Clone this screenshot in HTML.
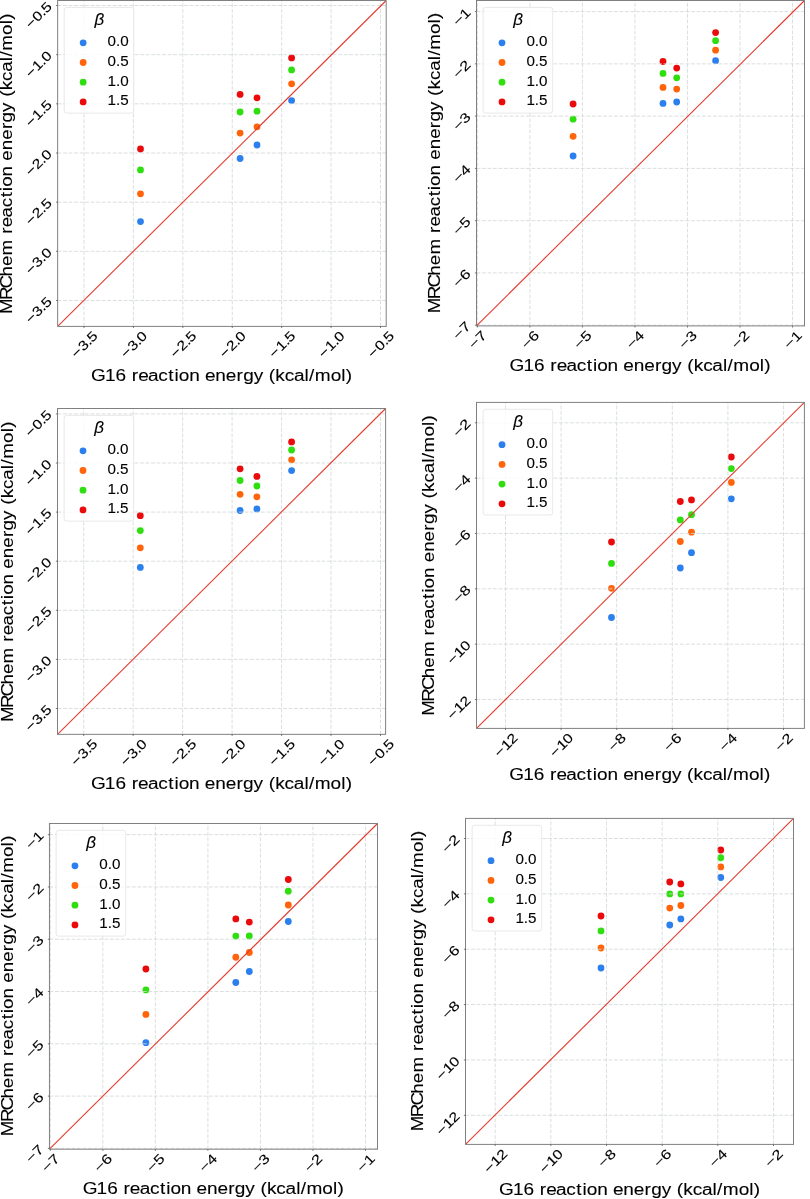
<!DOCTYPE html><html><head><meta charset="utf-8"><title>MRChem vs G16 reaction energies</title>
<style>html,body{margin:0;padding:0;background:#fff;width:810px;height:1199px;overflow:hidden}svg{display:block;filter:blur(0.35px)}text{font-family:"Liberation Sans",sans-serif;fill:#000;stroke:#000;stroke-width:0.1px}.tk{font-size:13.4px}.lab{font-size:16.4px}.lg{font-size:14.2px}.beta{font-size:17.0px;font-style:italic}</style></head><body>
<svg width="810" height="1199" viewBox="0 0 810 1199">
<rect width="810" height="1199" fill="#fff"/>
<g id="p1">
<clipPath id="c0"><rect x="57.65" y="0.5" width="328.55" height="325.90"/></clipPath>
<g clip-path="url(#c0)">
<circle cx="140.5" cy="221.6" r="3.4" fill="#2c80ee"/>
<circle cx="140.5" cy="193.8" r="3.4" fill="#ff640a"/>
<circle cx="140.5" cy="169.9" r="3.4" fill="#2fde0e"/>
<circle cx="140.5" cy="149" r="3.4" fill="#ea0a0c"/>
<circle cx="240.1" cy="158.5" r="3.4" fill="#2c80ee"/>
<circle cx="240.1" cy="133.1" r="3.4" fill="#ff640a"/>
<circle cx="240.1" cy="112" r="3.4" fill="#2fde0e"/>
<circle cx="240.1" cy="94.4" r="3.4" fill="#ea0a0c"/>
<circle cx="257" cy="145" r="3.4" fill="#2c80ee"/>
<circle cx="257" cy="126.8" r="3.4" fill="#ff640a"/>
<circle cx="257" cy="111.2" r="3.4" fill="#2fde0e"/>
<circle cx="257" cy="97.8" r="3.4" fill="#ea0a0c"/>
<circle cx="291.6" cy="100.6" r="3.4" fill="#2c80ee"/>
<circle cx="291.6" cy="83.8" r="3.4" fill="#ff640a"/>
<circle cx="291.6" cy="69.9" r="3.4" fill="#2fde0e"/>
<circle cx="291.6" cy="57.9" r="3.4" fill="#ea0a0c"/>
<line x1="84.00" y1="326.4" x2="84.00" y2="0.5" stroke="#d2d7d7" stroke-width="0.8" stroke-dasharray="3.85 1.65"/>
<line x1="133.42" y1="326.4" x2="133.42" y2="0.5" stroke="#d2d7d7" stroke-width="0.8" stroke-dasharray="3.85 1.65"/>
<line x1="182.83" y1="326.4" x2="182.83" y2="0.5" stroke="#d2d7d7" stroke-width="0.8" stroke-dasharray="3.85 1.65"/>
<line x1="232.25" y1="326.4" x2="232.25" y2="0.5" stroke="#d2d7d7" stroke-width="0.8" stroke-dasharray="3.85 1.65"/>
<line x1="281.67" y1="326.4" x2="281.67" y2="0.5" stroke="#d2d7d7" stroke-width="0.8" stroke-dasharray="3.85 1.65"/>
<line x1="331.08" y1="326.4" x2="331.08" y2="0.5" stroke="#d2d7d7" stroke-width="0.8" stroke-dasharray="3.85 1.65"/>
<line x1="380.50" y1="326.4" x2="380.50" y2="0.5" stroke="#d2d7d7" stroke-width="0.8" stroke-dasharray="3.85 1.65"/>
<line x1="57.65" y1="300.50" x2="386.2" y2="300.50" stroke="#d2d7d7" stroke-width="0.8" stroke-dasharray="3.85 1.65"/>
<line x1="57.65" y1="251.33" x2="386.2" y2="251.33" stroke="#d2d7d7" stroke-width="0.8" stroke-dasharray="3.85 1.65"/>
<line x1="57.65" y1="202.17" x2="386.2" y2="202.17" stroke="#d2d7d7" stroke-width="0.8" stroke-dasharray="3.85 1.65"/>
<line x1="57.65" y1="153.00" x2="386.2" y2="153.00" stroke="#d2d7d7" stroke-width="0.8" stroke-dasharray="3.85 1.65"/>
<line x1="57.65" y1="103.83" x2="386.2" y2="103.83" stroke="#d2d7d7" stroke-width="0.8" stroke-dasharray="3.85 1.65"/>
<line x1="57.65" y1="54.67" x2="386.2" y2="54.67" stroke="#d2d7d7" stroke-width="0.8" stroke-dasharray="3.85 1.65"/>
<line x1="57.65" y1="5.50" x2="386.2" y2="5.50" stroke="#d2d7d7" stroke-width="0.8" stroke-dasharray="3.85 1.65"/>
<line x1="57.65" y1="326.4" x2="386.2" y2="0.5" stroke="#e43c30" stroke-width="1.1"/>
</g>
<rect x="64.2" y="7.4" width="69.6" height="105.7" rx="2.5" fill="#fff" fill-opacity="0.8" stroke="#e2e2e2" stroke-width="0.8"/>
<text class="beta" x="94.47" y="24.88">β</text>
<circle cx="83.15" cy="42.80" r="3.4" fill="#2c80ee"/>
<text class="lg" transform="translate(107.55,46.27) scale(1.0715,1)" x="-0.00 7.90 11.84" y="0">0.0</text>
<circle cx="83.15" cy="62.50" r="3.4" fill="#ff640a"/>
<text class="lg" transform="translate(107.55,65.97) scale(1.0715,1)" x="-0.00 7.90 11.84" y="0">0.5</text>
<circle cx="83.15" cy="82.20" r="3.4" fill="#2fde0e"/>
<text class="lg" transform="translate(107.55,85.67) scale(1.0715,1)" x="-0.00 7.90 11.84" y="0">1.0</text>
<circle cx="83.15" cy="101.90" r="3.4" fill="#ea0a0c"/>
<text class="lg" transform="translate(107.55,105.38) scale(1.0715,1)" x="-0.00 7.90 11.84" y="0">1.5</text>
<rect x="57.65" y="0.5" width="328.55" height="325.90" fill="none" stroke="#808080" stroke-width="1"/>
<line x1="84.00" y1="326.4" x2="84.00" y2="328.0" stroke="#555" stroke-width="0.8"/>
<line x1="133.42" y1="326.4" x2="133.42" y2="328.0" stroke="#555" stroke-width="0.8"/>
<line x1="182.83" y1="326.4" x2="182.83" y2="328.0" stroke="#555" stroke-width="0.8"/>
<line x1="232.25" y1="326.4" x2="232.25" y2="328.0" stroke="#555" stroke-width="0.8"/>
<line x1="281.67" y1="326.4" x2="281.67" y2="328.0" stroke="#555" stroke-width="0.8"/>
<line x1="331.08" y1="326.4" x2="331.08" y2="328.0" stroke="#555" stroke-width="0.8"/>
<line x1="380.50" y1="326.4" x2="380.50" y2="328.0" stroke="#555" stroke-width="0.8"/>
<line x1="56.05" y1="300.50" x2="57.65" y2="300.50" stroke="#555" stroke-width="0.8"/>
<line x1="56.05" y1="251.33" x2="57.65" y2="251.33" stroke="#555" stroke-width="0.8"/>
<line x1="56.05" y1="202.17" x2="57.65" y2="202.17" stroke="#555" stroke-width="0.8"/>
<line x1="56.05" y1="153.00" x2="57.65" y2="153.00" stroke="#555" stroke-width="0.8"/>
<line x1="56.05" y1="103.83" x2="57.65" y2="103.83" stroke="#555" stroke-width="0.8"/>
<line x1="56.05" y1="54.67" x2="57.65" y2="54.67" stroke="#555" stroke-width="0.8"/>
<line x1="56.05" y1="5.50" x2="57.65" y2="5.50" stroke="#555" stroke-width="0.8"/>
<text class="tk" transform="translate(98.33,337.00) rotate(-45) scale(1.1933,1)" x="-25.80 -17.59 -10.52 -7.19" y="0">−3.5</text>
<text class="tk" transform="translate(147.75,337.00) rotate(-45) scale(1.1933,1)" x="-25.80 -17.59 -10.52 -7.19" y="0">−3.0</text>
<text class="tk" transform="translate(197.16,337.00) rotate(-45) scale(1.1933,1)" x="-25.80 -17.59 -10.52 -7.19" y="0">−2.5</text>
<text class="tk" transform="translate(246.58,337.00) rotate(-45) scale(1.1933,1)" x="-25.80 -17.59 -10.52 -7.19" y="0">−2.0</text>
<text class="tk" transform="translate(296.00,337.00) rotate(-45) scale(1.1933,1)" x="-25.80 -17.59 -10.52 -7.19" y="0">−1.5</text>
<text class="tk" transform="translate(345.41,337.00) rotate(-45) scale(1.1933,1)" x="-25.80 -17.59 -10.52 -7.19" y="0">−1.0</text>
<text class="tk" transform="translate(394.83,337.00) rotate(-45) scale(1.1933,1)" x="-25.80 -17.59 -10.52 -7.19" y="0">−0.5</text>
<text class="tk" transform="translate(52.45,302.60) rotate(-45) scale(1.1933,1)" x="-25.80 -17.59 -10.52 -7.19" y="0">−3.5</text>
<text class="tk" transform="translate(52.45,253.43) rotate(-45) scale(1.1933,1)" x="-25.80 -17.59 -10.52 -7.19" y="0">−3.0</text>
<text class="tk" transform="translate(52.45,204.27) rotate(-45) scale(1.1933,1)" x="-25.80 -17.59 -10.52 -7.19" y="0">−2.5</text>
<text class="tk" transform="translate(52.45,155.10) rotate(-45) scale(1.1933,1)" x="-25.80 -17.59 -10.52 -7.19" y="0">−2.0</text>
<text class="tk" transform="translate(52.45,105.93) rotate(-45) scale(1.1933,1)" x="-25.80 -17.59 -10.52 -7.19" y="0">−1.5</text>
<text class="tk" transform="translate(52.45,56.77) rotate(-45) scale(1.1933,1)" x="-25.80 -17.59 -10.52 -7.19" y="0">−1.0</text>
<text class="tk" transform="translate(52.45,7.60) rotate(-45) scale(1.1933,1)" x="-25.80 -17.59 -10.52 -7.19" y="0">−0.5</text>
<text class="lab" transform="translate(91.95,381.00) scale(1.1609,1)" x="-0.80 11.18 20.35 29.50 34.30 39.86 48.38 57.22 65.82 71.10 74.77 83.74 92.88 97.31 106.31 115.30 124.52 130.23 139.27 147.64 152.29 157.90 166.03 173.94 183.09 187.06 191.95 205.64 214.79 218.69" y="0">G16 reaction energy (kcal/mol)</text>
<text class="lab" transform="translate(12.40,313.52) rotate(-90) scale(1.1434,1)" x="-0.52 11.77 21.96 32.33 41.46 50.81 64.81 69.69 75.37 84.02 92.98 101.69 107.05 110.81 119.92 129.16 133.70 142.83 151.96 161.30 167.11 176.29 184.76 189.48 195.20 203.45 211.49 220.74 224.78 229.82 243.68 252.92 256.90" y="0">MRChem reaction energy (kcal/mol)</text>
</g>
<g id="p2">
<clipPath id="c1"><rect x="476.5" y="0.5" width="328.00" height="325.40"/></clipPath>
<g clip-path="url(#c1)">
<circle cx="573.1" cy="156" r="3.4" fill="#2c80ee"/>
<circle cx="573.1" cy="136.3" r="3.4" fill="#ff640a"/>
<circle cx="573.1" cy="119.2" r="3.4" fill="#2fde0e"/>
<circle cx="573.1" cy="104" r="3.4" fill="#ea0a0c"/>
<circle cx="663" cy="103.4" r="3.4" fill="#2c80ee"/>
<circle cx="663" cy="87.4" r="3.4" fill="#ff640a"/>
<circle cx="663" cy="73.4" r="3.4" fill="#2fde0e"/>
<circle cx="663" cy="61.5" r="3.4" fill="#ea0a0c"/>
<circle cx="676.7" cy="102" r="3.4" fill="#2c80ee"/>
<circle cx="676.7" cy="89.1" r="3.4" fill="#ff640a"/>
<circle cx="676.7" cy="77.8" r="3.4" fill="#2fde0e"/>
<circle cx="676.7" cy="68.1" r="3.4" fill="#ea0a0c"/>
<circle cx="715.6" cy="60.7" r="3.4" fill="#2c80ee"/>
<circle cx="715.6" cy="50.2" r="3.4" fill="#ff640a"/>
<circle cx="715.6" cy="40.7" r="3.4" fill="#2fde0e"/>
<circle cx="715.6" cy="32.6" r="3.4" fill="#ea0a0c"/>
<line x1="477.40" y1="325.9" x2="477.40" y2="0.5" stroke="#d2d7d7" stroke-width="0.8" stroke-dasharray="3.85 1.65"/>
<line x1="529.92" y1="325.9" x2="529.92" y2="0.5" stroke="#d2d7d7" stroke-width="0.8" stroke-dasharray="3.85 1.65"/>
<line x1="582.43" y1="325.9" x2="582.43" y2="0.5" stroke="#d2d7d7" stroke-width="0.8" stroke-dasharray="3.85 1.65"/>
<line x1="634.95" y1="325.9" x2="634.95" y2="0.5" stroke="#d2d7d7" stroke-width="0.8" stroke-dasharray="3.85 1.65"/>
<line x1="687.47" y1="325.9" x2="687.47" y2="0.5" stroke="#d2d7d7" stroke-width="0.8" stroke-dasharray="3.85 1.65"/>
<line x1="739.98" y1="325.9" x2="739.98" y2="0.5" stroke="#d2d7d7" stroke-width="0.8" stroke-dasharray="3.85 1.65"/>
<line x1="792.50" y1="325.9" x2="792.50" y2="0.5" stroke="#d2d7d7" stroke-width="0.8" stroke-dasharray="3.85 1.65"/>
<line x1="476.5" y1="325.20" x2="804.5" y2="325.20" stroke="#d2d7d7" stroke-width="0.8" stroke-dasharray="3.85 1.65"/>
<line x1="476.5" y1="272.93" x2="804.5" y2="272.93" stroke="#d2d7d7" stroke-width="0.8" stroke-dasharray="3.85 1.65"/>
<line x1="476.5" y1="220.67" x2="804.5" y2="220.67" stroke="#d2d7d7" stroke-width="0.8" stroke-dasharray="3.85 1.65"/>
<line x1="476.5" y1="168.40" x2="804.5" y2="168.40" stroke="#d2d7d7" stroke-width="0.8" stroke-dasharray="3.85 1.65"/>
<line x1="476.5" y1="116.13" x2="804.5" y2="116.13" stroke="#d2d7d7" stroke-width="0.8" stroke-dasharray="3.85 1.65"/>
<line x1="476.5" y1="63.87" x2="804.5" y2="63.87" stroke="#d2d7d7" stroke-width="0.8" stroke-dasharray="3.85 1.65"/>
<line x1="476.5" y1="11.60" x2="804.5" y2="11.60" stroke="#d2d7d7" stroke-width="0.8" stroke-dasharray="3.85 1.65"/>
<line x1="476.5" y1="325.9" x2="804.5" y2="0.5" stroke="#e43c30" stroke-width="1.1"/>
</g>
<rect x="483.1" y="7.4" width="69.6" height="105.7" rx="2.5" fill="#fff" fill-opacity="0.8" stroke="#e2e2e2" stroke-width="0.8"/>
<text class="beta" x="513.33" y="24.88">β</text>
<circle cx="502.00" cy="42.80" r="3.4" fill="#2c80ee"/>
<text class="lg" transform="translate(526.40,46.27) scale(1.0715,1)" x="-0.00 7.90 11.84" y="0">0.0</text>
<circle cx="502.00" cy="62.50" r="3.4" fill="#ff640a"/>
<text class="lg" transform="translate(526.40,65.97) scale(1.0715,1)" x="-0.00 7.90 11.84" y="0">0.5</text>
<circle cx="502.00" cy="82.20" r="3.4" fill="#2fde0e"/>
<text class="lg" transform="translate(526.40,85.67) scale(1.0715,1)" x="-0.00 7.90 11.84" y="0">1.0</text>
<circle cx="502.00" cy="101.90" r="3.4" fill="#ea0a0c"/>
<text class="lg" transform="translate(526.40,105.38) scale(1.0715,1)" x="-0.00 7.90 11.84" y="0">1.5</text>
<rect x="476.5" y="0.5" width="328.00" height="325.40" fill="none" stroke="#808080" stroke-width="1"/>
<line x1="477.40" y1="325.9" x2="477.40" y2="327.5" stroke="#555" stroke-width="0.8"/>
<line x1="529.92" y1="325.9" x2="529.92" y2="327.5" stroke="#555" stroke-width="0.8"/>
<line x1="582.43" y1="325.9" x2="582.43" y2="327.5" stroke="#555" stroke-width="0.8"/>
<line x1="634.95" y1="325.9" x2="634.95" y2="327.5" stroke="#555" stroke-width="0.8"/>
<line x1="687.47" y1="325.9" x2="687.47" y2="327.5" stroke="#555" stroke-width="0.8"/>
<line x1="739.98" y1="325.9" x2="739.98" y2="327.5" stroke="#555" stroke-width="0.8"/>
<line x1="792.50" y1="325.9" x2="792.50" y2="327.5" stroke="#555" stroke-width="0.8"/>
<line x1="474.9" y1="325.20" x2="476.5" y2="325.20" stroke="#555" stroke-width="0.8"/>
<line x1="474.9" y1="272.93" x2="476.5" y2="272.93" stroke="#555" stroke-width="0.8"/>
<line x1="474.9" y1="220.67" x2="476.5" y2="220.67" stroke="#555" stroke-width="0.8"/>
<line x1="474.9" y1="168.40" x2="476.5" y2="168.40" stroke="#555" stroke-width="0.8"/>
<line x1="474.9" y1="116.13" x2="476.5" y2="116.13" stroke="#555" stroke-width="0.8"/>
<line x1="474.9" y1="63.87" x2="476.5" y2="63.87" stroke="#555" stroke-width="0.8"/>
<line x1="474.9" y1="11.60" x2="476.5" y2="11.60" stroke="#555" stroke-width="0.8"/>
<text class="tk" transform="translate(487.28,336.50) rotate(-45) scale(1.2543,1)" x="-14.85 -7.02" y="0">−7</text>
<text class="tk" transform="translate(539.80,336.50) rotate(-45) scale(1.2543,1)" x="-14.85 -7.02" y="0">−6</text>
<text class="tk" transform="translate(592.31,336.50) rotate(-45) scale(1.2543,1)" x="-14.85 -7.02" y="0">−5</text>
<text class="tk" transform="translate(644.83,336.50) rotate(-45) scale(1.2543,1)" x="-14.85 -7.02" y="0">−4</text>
<text class="tk" transform="translate(697.35,336.50) rotate(-45) scale(1.2543,1)" x="-14.85 -7.02" y="0">−3</text>
<text class="tk" transform="translate(749.86,336.50) rotate(-45) scale(1.2543,1)" x="-14.85 -7.02" y="0">−2</text>
<text class="tk" transform="translate(802.38,336.50) rotate(-45) scale(1.2543,1)" x="-14.85 -7.02" y="0">−1</text>
<text class="tk" transform="translate(471.30,327.30) rotate(-45) scale(1.2543,1)" x="-14.85 -7.02" y="0">−7</text>
<text class="tk" transform="translate(471.30,275.03) rotate(-45) scale(1.2543,1)" x="-14.85 -7.02" y="0">−6</text>
<text class="tk" transform="translate(471.30,222.77) rotate(-45) scale(1.2543,1)" x="-14.85 -7.02" y="0">−5</text>
<text class="tk" transform="translate(471.30,170.50) rotate(-45) scale(1.2543,1)" x="-14.85 -7.02" y="0">−4</text>
<text class="tk" transform="translate(471.30,118.23) rotate(-45) scale(1.2543,1)" x="-14.85 -7.02" y="0">−3</text>
<text class="tk" transform="translate(471.30,65.97) rotate(-45) scale(1.2543,1)" x="-14.85 -7.02" y="0">−2</text>
<text class="tk" transform="translate(471.30,13.70) rotate(-45) scale(1.2543,1)" x="-14.85 -7.02" y="0">−1</text>
<text class="lab" transform="translate(510.40,371.10) scale(1.1609,1)" x="-0.80 11.18 20.35 29.50 34.30 39.86 48.38 57.22 65.82 71.10 74.77 83.74 92.88 97.31 106.31 115.30 124.52 130.23 139.27 147.64 152.29 157.90 166.03 173.94 183.09 187.06 191.95 205.64 214.79 218.69" y="0">G16 reaction energy (kcal/mol)</text>
<text class="lab" transform="translate(440.00,312.62) rotate(-90) scale(1.1434,1)" x="-0.52 11.77 21.96 32.33 41.46 50.81 64.81 69.69 75.37 84.02 92.98 101.69 107.05 110.81 119.92 129.16 133.70 142.83 151.96 161.30 167.11 176.29 184.76 189.48 195.20 203.45 211.49 220.74 224.78 229.82 243.68 252.92 256.90" y="0">MRChem reaction energy (kcal/mol)</text>
</g>
<g id="p3">
<clipPath id="c2"><rect x="57.5" y="408.5" width="328.10" height="325.85"/></clipPath>
<g clip-path="url(#c2)">
<circle cx="140.3" cy="567.4" r="3.4" fill="#2c80ee"/>
<circle cx="140.3" cy="547.8" r="3.4" fill="#ff640a"/>
<circle cx="140.3" cy="530.6" r="3.4" fill="#2fde0e"/>
<circle cx="140.3" cy="515.7" r="3.4" fill="#ea0a0c"/>
<circle cx="240.1" cy="510.5" r="3.4" fill="#2c80ee"/>
<circle cx="240.1" cy="494.3" r="3.4" fill="#ff640a"/>
<circle cx="240.1" cy="480.5" r="3.4" fill="#2fde0e"/>
<circle cx="240.1" cy="468.8" r="3.4" fill="#ea0a0c"/>
<circle cx="256.9" cy="508.9" r="3.4" fill="#2c80ee"/>
<circle cx="256.9" cy="496.8" r="3.4" fill="#ff640a"/>
<circle cx="256.9" cy="486" r="3.4" fill="#2fde0e"/>
<circle cx="256.9" cy="476.4" r="3.4" fill="#ea0a0c"/>
<circle cx="291.6" cy="470.6" r="3.4" fill="#2c80ee"/>
<circle cx="291.6" cy="459.8" r="3.4" fill="#ff640a"/>
<circle cx="291.6" cy="450" r="3.4" fill="#2fde0e"/>
<circle cx="291.6" cy="441.9" r="3.4" fill="#ea0a0c"/>
<line x1="83.70" y1="734.35" x2="83.70" y2="408.5" stroke="#d2d7d7" stroke-width="0.8" stroke-dasharray="3.85 1.65"/>
<line x1="133.17" y1="734.35" x2="133.17" y2="408.5" stroke="#d2d7d7" stroke-width="0.8" stroke-dasharray="3.85 1.65"/>
<line x1="182.63" y1="734.35" x2="182.63" y2="408.5" stroke="#d2d7d7" stroke-width="0.8" stroke-dasharray="3.85 1.65"/>
<line x1="232.10" y1="734.35" x2="232.10" y2="408.5" stroke="#d2d7d7" stroke-width="0.8" stroke-dasharray="3.85 1.65"/>
<line x1="281.57" y1="734.35" x2="281.57" y2="408.5" stroke="#d2d7d7" stroke-width="0.8" stroke-dasharray="3.85 1.65"/>
<line x1="331.03" y1="734.35" x2="331.03" y2="408.5" stroke="#d2d7d7" stroke-width="0.8" stroke-dasharray="3.85 1.65"/>
<line x1="380.50" y1="734.35" x2="380.50" y2="408.5" stroke="#d2d7d7" stroke-width="0.8" stroke-dasharray="3.85 1.65"/>
<line x1="57.5" y1="708.50" x2="385.6" y2="708.50" stroke="#d2d7d7" stroke-width="0.8" stroke-dasharray="3.85 1.65"/>
<line x1="57.5" y1="659.40" x2="385.6" y2="659.40" stroke="#d2d7d7" stroke-width="0.8" stroke-dasharray="3.85 1.65"/>
<line x1="57.5" y1="610.30" x2="385.6" y2="610.30" stroke="#d2d7d7" stroke-width="0.8" stroke-dasharray="3.85 1.65"/>
<line x1="57.5" y1="561.20" x2="385.6" y2="561.20" stroke="#d2d7d7" stroke-width="0.8" stroke-dasharray="3.85 1.65"/>
<line x1="57.5" y1="512.10" x2="385.6" y2="512.10" stroke="#d2d7d7" stroke-width="0.8" stroke-dasharray="3.85 1.65"/>
<line x1="57.5" y1="463.00" x2="385.6" y2="463.00" stroke="#d2d7d7" stroke-width="0.8" stroke-dasharray="3.85 1.65"/>
<line x1="57.5" y1="413.90" x2="385.6" y2="413.90" stroke="#d2d7d7" stroke-width="0.8" stroke-dasharray="3.85 1.65"/>
<line x1="57.5" y1="734.35" x2="385.6" y2="408.5" stroke="#e43c30" stroke-width="1.1"/>
</g>
<rect x="64.1" y="415.4" width="69.6" height="105.7" rx="2.5" fill="#fff" fill-opacity="0.8" stroke="#e2e2e2" stroke-width="0.8"/>
<text class="beta" x="94.33" y="432.88">β</text>
<circle cx="83.00" cy="450.80" r="3.4" fill="#2c80ee"/>
<text class="lg" transform="translate(107.40,454.27) scale(1.0715,1)" x="-0.00 7.90 11.84" y="0">0.0</text>
<circle cx="83.00" cy="470.50" r="3.4" fill="#ff640a"/>
<text class="lg" transform="translate(107.40,473.97) scale(1.0715,1)" x="-0.00 7.90 11.84" y="0">0.5</text>
<circle cx="83.00" cy="490.20" r="3.4" fill="#2fde0e"/>
<text class="lg" transform="translate(107.40,493.67) scale(1.0715,1)" x="-0.00 7.90 11.84" y="0">1.0</text>
<circle cx="83.00" cy="509.90" r="3.4" fill="#ea0a0c"/>
<text class="lg" transform="translate(107.40,513.38) scale(1.0715,1)" x="-0.00 7.90 11.84" y="0">1.5</text>
<rect x="57.5" y="408.5" width="328.10" height="325.85" fill="none" stroke="#808080" stroke-width="1"/>
<line x1="83.70" y1="734.35" x2="83.70" y2="735.95" stroke="#555" stroke-width="0.8"/>
<line x1="133.17" y1="734.35" x2="133.17" y2="735.95" stroke="#555" stroke-width="0.8"/>
<line x1="182.63" y1="734.35" x2="182.63" y2="735.95" stroke="#555" stroke-width="0.8"/>
<line x1="232.10" y1="734.35" x2="232.10" y2="735.95" stroke="#555" stroke-width="0.8"/>
<line x1="281.57" y1="734.35" x2="281.57" y2="735.95" stroke="#555" stroke-width="0.8"/>
<line x1="331.03" y1="734.35" x2="331.03" y2="735.95" stroke="#555" stroke-width="0.8"/>
<line x1="380.50" y1="734.35" x2="380.50" y2="735.95" stroke="#555" stroke-width="0.8"/>
<line x1="55.9" y1="708.50" x2="57.5" y2="708.50" stroke="#555" stroke-width="0.8"/>
<line x1="55.9" y1="659.40" x2="57.5" y2="659.40" stroke="#555" stroke-width="0.8"/>
<line x1="55.9" y1="610.30" x2="57.5" y2="610.30" stroke="#555" stroke-width="0.8"/>
<line x1="55.9" y1="561.20" x2="57.5" y2="561.20" stroke="#555" stroke-width="0.8"/>
<line x1="55.9" y1="512.10" x2="57.5" y2="512.10" stroke="#555" stroke-width="0.8"/>
<line x1="55.9" y1="463.00" x2="57.5" y2="463.00" stroke="#555" stroke-width="0.8"/>
<line x1="55.9" y1="413.90" x2="57.5" y2="413.90" stroke="#555" stroke-width="0.8"/>
<text class="tk" transform="translate(98.03,744.95) rotate(-45) scale(1.1933,1)" x="-25.80 -17.59 -10.52 -7.19" y="0">−3.5</text>
<text class="tk" transform="translate(147.50,744.95) rotate(-45) scale(1.1933,1)" x="-25.80 -17.59 -10.52 -7.19" y="0">−3.0</text>
<text class="tk" transform="translate(196.96,744.95) rotate(-45) scale(1.1933,1)" x="-25.80 -17.59 -10.52 -7.19" y="0">−2.5</text>
<text class="tk" transform="translate(246.43,744.95) rotate(-45) scale(1.1933,1)" x="-25.80 -17.59 -10.52 -7.19" y="0">−2.0</text>
<text class="tk" transform="translate(295.90,744.95) rotate(-45) scale(1.1933,1)" x="-25.80 -17.59 -10.52 -7.19" y="0">−1.5</text>
<text class="tk" transform="translate(345.36,744.95) rotate(-45) scale(1.1933,1)" x="-25.80 -17.59 -10.52 -7.19" y="0">−1.0</text>
<text class="tk" transform="translate(394.83,744.95) rotate(-45) scale(1.1933,1)" x="-25.80 -17.59 -10.52 -7.19" y="0">−0.5</text>
<text class="tk" transform="translate(52.30,710.60) rotate(-45) scale(1.1933,1)" x="-25.80 -17.59 -10.52 -7.19" y="0">−3.5</text>
<text class="tk" transform="translate(52.30,661.50) rotate(-45) scale(1.1933,1)" x="-25.80 -17.59 -10.52 -7.19" y="0">−3.0</text>
<text class="tk" transform="translate(52.30,612.40) rotate(-45) scale(1.1933,1)" x="-25.80 -17.59 -10.52 -7.19" y="0">−2.5</text>
<text class="tk" transform="translate(52.30,563.30) rotate(-45) scale(1.1933,1)" x="-25.80 -17.59 -10.52 -7.19" y="0">−2.0</text>
<text class="tk" transform="translate(52.30,514.20) rotate(-45) scale(1.1933,1)" x="-25.80 -17.59 -10.52 -7.19" y="0">−1.5</text>
<text class="tk" transform="translate(52.30,465.10) rotate(-45) scale(1.1933,1)" x="-25.80 -17.59 -10.52 -7.19" y="0">−1.0</text>
<text class="tk" transform="translate(52.30,416.00) rotate(-45) scale(1.1933,1)" x="-25.80 -17.59 -10.52 -7.19" y="0">−0.5</text>
<text class="lab" transform="translate(91.85,789.10) scale(1.1609,1)" x="-0.80 11.18 20.35 29.50 34.30 39.86 48.38 57.22 65.82 71.10 74.77 83.74 92.88 97.31 106.31 115.30 124.52 130.23 139.27 147.64 152.29 157.90 166.03 173.94 183.09 187.06 191.95 205.64 214.79 218.69" y="0">G16 reaction energy (kcal/mol)</text>
<text class="lab" transform="translate(12.50,721.52) rotate(-90) scale(1.1434,1)" x="-0.52 11.77 21.96 32.33 41.46 50.81 64.81 69.69 75.37 84.02 92.98 101.69 107.05 110.81 119.92 129.16 133.70 142.83 151.96 161.30 167.11 176.29 184.76 189.48 195.20 203.45 211.49 220.74 224.78 229.82 243.68 252.92 256.90" y="0">MRChem reaction energy (kcal/mol)</text>
</g>
<g id="p4">
<clipPath id="c3"><rect x="476.5" y="402.4" width="327.90" height="326.00"/></clipPath>
<g clip-path="url(#c3)">
<circle cx="611.5" cy="617.5" r="3.4" fill="#2c80ee"/>
<circle cx="611.5" cy="588.3" r="3.4" fill="#ff640a"/>
<circle cx="611.5" cy="563.4" r="3.4" fill="#2fde0e"/>
<circle cx="611.5" cy="542" r="3.4" fill="#ea0a0c"/>
<circle cx="680.3" cy="568" r="3.4" fill="#2c80ee"/>
<circle cx="680.3" cy="541.5" r="3.4" fill="#ff640a"/>
<circle cx="680.3" cy="519.9" r="3.4" fill="#2fde0e"/>
<circle cx="680.3" cy="501.5" r="3.4" fill="#ea0a0c"/>
<circle cx="691.5" cy="552.7" r="3.4" fill="#2c80ee"/>
<circle cx="691.5" cy="532.2" r="3.4" fill="#ff640a"/>
<circle cx="691.5" cy="514.7" r="3.4" fill="#2fde0e"/>
<circle cx="691.5" cy="499.9" r="3.4" fill="#ea0a0c"/>
<circle cx="731.3" cy="498.8" r="3.4" fill="#2c80ee"/>
<circle cx="731.3" cy="482.4" r="3.4" fill="#ff640a"/>
<circle cx="731.3" cy="468.6" r="3.4" fill="#2fde0e"/>
<circle cx="731.3" cy="457" r="3.4" fill="#ea0a0c"/>
<line x1="505.50" y1="728.4" x2="505.50" y2="402.4" stroke="#d2d7d7" stroke-width="0.8" stroke-dasharray="3.85 1.65"/>
<line x1="561.10" y1="728.4" x2="561.10" y2="402.4" stroke="#d2d7d7" stroke-width="0.8" stroke-dasharray="3.85 1.65"/>
<line x1="616.70" y1="728.4" x2="616.70" y2="402.4" stroke="#d2d7d7" stroke-width="0.8" stroke-dasharray="3.85 1.65"/>
<line x1="672.30" y1="728.4" x2="672.30" y2="402.4" stroke="#d2d7d7" stroke-width="0.8" stroke-dasharray="3.85 1.65"/>
<line x1="727.90" y1="728.4" x2="727.90" y2="402.4" stroke="#d2d7d7" stroke-width="0.8" stroke-dasharray="3.85 1.65"/>
<line x1="783.50" y1="728.4" x2="783.50" y2="402.4" stroke="#d2d7d7" stroke-width="0.8" stroke-dasharray="3.85 1.65"/>
<line x1="476.5" y1="699.50" x2="804.4" y2="699.50" stroke="#d2d7d7" stroke-width="0.8" stroke-dasharray="3.85 1.65"/>
<line x1="476.5" y1="644.16" x2="804.4" y2="644.16" stroke="#d2d7d7" stroke-width="0.8" stroke-dasharray="3.85 1.65"/>
<line x1="476.5" y1="588.82" x2="804.4" y2="588.82" stroke="#d2d7d7" stroke-width="0.8" stroke-dasharray="3.85 1.65"/>
<line x1="476.5" y1="533.48" x2="804.4" y2="533.48" stroke="#d2d7d7" stroke-width="0.8" stroke-dasharray="3.85 1.65"/>
<line x1="476.5" y1="478.14" x2="804.4" y2="478.14" stroke="#d2d7d7" stroke-width="0.8" stroke-dasharray="3.85 1.65"/>
<line x1="476.5" y1="422.80" x2="804.4" y2="422.80" stroke="#d2d7d7" stroke-width="0.8" stroke-dasharray="3.85 1.65"/>
<line x1="476.5" y1="728.4" x2="804.4" y2="402.4" stroke="#e43c30" stroke-width="1.1"/>
</g>
<rect x="483.1" y="409.3" width="69.6" height="105.7" rx="2.5" fill="#fff" fill-opacity="0.8" stroke="#e2e2e2" stroke-width="0.8"/>
<text class="beta" x="513.33" y="426.77">β</text>
<circle cx="502.00" cy="444.70" r="3.4" fill="#2c80ee"/>
<text class="lg" transform="translate(526.40,448.17) scale(1.0715,1)" x="-0.00 7.90 11.84" y="0">0.0</text>
<circle cx="502.00" cy="464.40" r="3.4" fill="#ff640a"/>
<text class="lg" transform="translate(526.40,467.87) scale(1.0715,1)" x="-0.00 7.90 11.84" y="0">0.5</text>
<circle cx="502.00" cy="484.10" r="3.4" fill="#2fde0e"/>
<text class="lg" transform="translate(526.40,487.57) scale(1.0715,1)" x="-0.00 7.90 11.84" y="0">1.0</text>
<circle cx="502.00" cy="503.80" r="3.4" fill="#ea0a0c"/>
<text class="lg" transform="translate(526.40,507.27) scale(1.0715,1)" x="-0.00 7.90 11.84" y="0">1.5</text>
<rect x="476.5" y="402.4" width="327.90" height="326.00" fill="none" stroke="#808080" stroke-width="1"/>
<line x1="505.50" y1="728.4" x2="505.50" y2="730.0" stroke="#555" stroke-width="0.8"/>
<line x1="561.10" y1="728.4" x2="561.10" y2="730.0" stroke="#555" stroke-width="0.8"/>
<line x1="616.70" y1="728.4" x2="616.70" y2="730.0" stroke="#555" stroke-width="0.8"/>
<line x1="672.30" y1="728.4" x2="672.30" y2="730.0" stroke="#555" stroke-width="0.8"/>
<line x1="727.90" y1="728.4" x2="727.90" y2="730.0" stroke="#555" stroke-width="0.8"/>
<line x1="783.50" y1="728.4" x2="783.50" y2="730.0" stroke="#555" stroke-width="0.8"/>
<line x1="474.9" y1="699.50" x2="476.5" y2="699.50" stroke="#555" stroke-width="0.8"/>
<line x1="474.9" y1="644.16" x2="476.5" y2="644.16" stroke="#555" stroke-width="0.8"/>
<line x1="474.9" y1="588.82" x2="476.5" y2="588.82" stroke="#555" stroke-width="0.8"/>
<line x1="474.9" y1="533.48" x2="476.5" y2="533.48" stroke="#555" stroke-width="0.8"/>
<line x1="474.9" y1="478.14" x2="476.5" y2="478.14" stroke="#555" stroke-width="0.8"/>
<line x1="474.9" y1="422.80" x2="476.5" y2="422.80" stroke="#555" stroke-width="0.8"/>
<text class="tk" transform="translate(518.35,739.00) rotate(-45) scale(1.2070,1)" x="-22.13 -14.01 -7.15" y="0">−12</text>
<text class="tk" transform="translate(573.95,739.00) rotate(-45) scale(1.2070,1)" x="-22.13 -14.01 -7.15" y="0">−10</text>
<text class="tk" transform="translate(626.58,739.00) rotate(-45) scale(1.2543,1)" x="-14.85 -7.02" y="0">−8</text>
<text class="tk" transform="translate(682.18,739.00) rotate(-45) scale(1.2543,1)" x="-14.85 -7.02" y="0">−6</text>
<text class="tk" transform="translate(737.78,739.00) rotate(-45) scale(1.2543,1)" x="-14.85 -7.02" y="0">−4</text>
<text class="tk" transform="translate(793.38,739.00) rotate(-45) scale(1.2543,1)" x="-14.85 -7.02" y="0">−2</text>
<text class="tk" transform="translate(471.30,701.60) rotate(-45) scale(1.2070,1)" x="-22.13 -14.01 -7.15" y="0">−12</text>
<text class="tk" transform="translate(471.30,646.26) rotate(-45) scale(1.2070,1)" x="-22.13 -14.01 -7.15" y="0">−10</text>
<text class="tk" transform="translate(471.30,590.92) rotate(-45) scale(1.2543,1)" x="-14.85 -7.02" y="0">−8</text>
<text class="tk" transform="translate(471.30,535.58) rotate(-45) scale(1.2543,1)" x="-14.85 -7.02" y="0">−6</text>
<text class="tk" transform="translate(471.30,480.24) rotate(-45) scale(1.2543,1)" x="-14.85 -7.02" y="0">−4</text>
<text class="tk" transform="translate(471.30,424.90) rotate(-45) scale(1.2543,1)" x="-14.85 -7.02" y="0">−2</text>
<text class="lab" transform="translate(510.20,780.10) scale(1.1609,1)" x="-0.80 11.18 20.35 29.50 34.30 39.86 48.38 57.22 65.82 71.10 74.77 83.74 92.88 97.31 106.31 115.30 124.52 130.23 139.27 147.64 152.29 157.90 166.03 173.94 183.09 187.06 191.95 205.64 214.79 218.69" y="0">G16 reaction energy (kcal/mol)</text>
<text class="lab" transform="translate(433.80,715.17) rotate(-90) scale(1.1434,1)" x="-0.52 11.77 21.96 32.33 41.46 50.81 64.81 69.69 75.37 84.02 92.98 101.69 107.05 110.81 119.92 129.16 133.70 142.83 151.96 161.30 167.11 176.29 184.76 189.48 195.20 203.45 211.49 220.74 224.78 229.82 243.68 252.92 256.90" y="0">MRChem reaction energy (kcal/mol)</text>
</g>
<g id="p5">
<clipPath id="c4"><rect x="49.45" y="823.5" width="328.05" height="325.70"/></clipPath>
<g clip-path="url(#c4)">
<circle cx="145.9" cy="1042.7" r="3.4" fill="#2c80ee"/>
<circle cx="145.9" cy="1014.4" r="3.4" fill="#ff640a"/>
<circle cx="145.9" cy="989.9" r="3.4" fill="#2fde0e"/>
<circle cx="145.9" cy="969" r="3.4" fill="#ea0a0c"/>
<circle cx="235.8" cy="982.5" r="3.4" fill="#2c80ee"/>
<circle cx="235.8" cy="957.25" r="3.4" fill="#ff640a"/>
<circle cx="235.8" cy="936.1" r="3.4" fill="#2fde0e"/>
<circle cx="235.8" cy="918.9" r="3.4" fill="#ea0a0c"/>
<circle cx="249.3" cy="971.5" r="3.4" fill="#2c80ee"/>
<circle cx="249.3" cy="952.5" r="3.4" fill="#ff640a"/>
<circle cx="249.3" cy="936" r="3.4" fill="#2fde0e"/>
<circle cx="249.3" cy="922.1" r="3.4" fill="#ea0a0c"/>
<circle cx="288.3" cy="921.5" r="3.4" fill="#2c80ee"/>
<circle cx="288.3" cy="905" r="3.4" fill="#ff640a"/>
<circle cx="288.3" cy="891.2" r="3.4" fill="#2fde0e"/>
<circle cx="288.3" cy="879.5" r="3.4" fill="#ea0a0c"/>
<line x1="50.30" y1="1149.2" x2="50.30" y2="823.5" stroke="#d2d7d7" stroke-width="0.8" stroke-dasharray="3.85 1.65"/>
<line x1="102.83" y1="1149.2" x2="102.83" y2="823.5" stroke="#d2d7d7" stroke-width="0.8" stroke-dasharray="3.85 1.65"/>
<line x1="155.37" y1="1149.2" x2="155.37" y2="823.5" stroke="#d2d7d7" stroke-width="0.8" stroke-dasharray="3.85 1.65"/>
<line x1="207.90" y1="1149.2" x2="207.90" y2="823.5" stroke="#d2d7d7" stroke-width="0.8" stroke-dasharray="3.85 1.65"/>
<line x1="260.43" y1="1149.2" x2="260.43" y2="823.5" stroke="#d2d7d7" stroke-width="0.8" stroke-dasharray="3.85 1.65"/>
<line x1="312.97" y1="1149.2" x2="312.97" y2="823.5" stroke="#d2d7d7" stroke-width="0.8" stroke-dasharray="3.85 1.65"/>
<line x1="365.50" y1="1149.2" x2="365.50" y2="823.5" stroke="#d2d7d7" stroke-width="0.8" stroke-dasharray="3.85 1.65"/>
<line x1="49.45" y1="1148.40" x2="377.5" y2="1148.40" stroke="#d2d7d7" stroke-width="0.8" stroke-dasharray="3.85 1.65"/>
<line x1="49.45" y1="1096.11" x2="377.5" y2="1096.11" stroke="#d2d7d7" stroke-width="0.8" stroke-dasharray="3.85 1.65"/>
<line x1="49.45" y1="1043.82" x2="377.5" y2="1043.82" stroke="#d2d7d7" stroke-width="0.8" stroke-dasharray="3.85 1.65"/>
<line x1="49.45" y1="991.53" x2="377.5" y2="991.53" stroke="#d2d7d7" stroke-width="0.8" stroke-dasharray="3.85 1.65"/>
<line x1="49.45" y1="939.23" x2="377.5" y2="939.23" stroke="#d2d7d7" stroke-width="0.8" stroke-dasharray="3.85 1.65"/>
<line x1="49.45" y1="886.94" x2="377.5" y2="886.94" stroke="#d2d7d7" stroke-width="0.8" stroke-dasharray="3.85 1.65"/>
<line x1="49.45" y1="834.65" x2="377.5" y2="834.65" stroke="#d2d7d7" stroke-width="0.8" stroke-dasharray="3.85 1.65"/>
<line x1="49.45" y1="1149.2" x2="377.5" y2="823.5" stroke="#e43c30" stroke-width="1.1"/>
</g>
<rect x="56.1" y="830.4" width="69.6" height="105.7" rx="2.5" fill="#fff" fill-opacity="0.8" stroke="#e2e2e2" stroke-width="0.8"/>
<text class="beta" x="86.28" y="847.88">β</text>
<circle cx="74.95" cy="865.80" r="3.4" fill="#2c80ee"/>
<text class="lg" transform="translate(99.35,869.27) scale(1.0715,1)" x="-0.00 7.90 11.84" y="0">0.0</text>
<circle cx="74.95" cy="885.50" r="3.4" fill="#ff640a"/>
<text class="lg" transform="translate(99.35,888.98) scale(1.0715,1)" x="-0.00 7.90 11.84" y="0">0.5</text>
<circle cx="74.95" cy="905.20" r="3.4" fill="#2fde0e"/>
<text class="lg" transform="translate(99.35,908.67) scale(1.0715,1)" x="-0.00 7.90 11.84" y="0">1.0</text>
<circle cx="74.95" cy="924.90" r="3.4" fill="#ea0a0c"/>
<text class="lg" transform="translate(99.35,928.38) scale(1.0715,1)" x="-0.00 7.90 11.84" y="0">1.5</text>
<rect x="49.45" y="823.5" width="328.05" height="325.70" fill="none" stroke="#808080" stroke-width="1"/>
<line x1="50.30" y1="1149.2" x2="50.30" y2="1150.8" stroke="#555" stroke-width="0.8"/>
<line x1="102.83" y1="1149.2" x2="102.83" y2="1150.8" stroke="#555" stroke-width="0.8"/>
<line x1="155.37" y1="1149.2" x2="155.37" y2="1150.8" stroke="#555" stroke-width="0.8"/>
<line x1="207.90" y1="1149.2" x2="207.90" y2="1150.8" stroke="#555" stroke-width="0.8"/>
<line x1="260.43" y1="1149.2" x2="260.43" y2="1150.8" stroke="#555" stroke-width="0.8"/>
<line x1="312.97" y1="1149.2" x2="312.97" y2="1150.8" stroke="#555" stroke-width="0.8"/>
<line x1="365.50" y1="1149.2" x2="365.50" y2="1150.8" stroke="#555" stroke-width="0.8"/>
<line x1="47.85" y1="1148.40" x2="49.45" y2="1148.40" stroke="#555" stroke-width="0.8"/>
<line x1="47.85" y1="1096.11" x2="49.45" y2="1096.11" stroke="#555" stroke-width="0.8"/>
<line x1="47.85" y1="1043.82" x2="49.45" y2="1043.82" stroke="#555" stroke-width="0.8"/>
<line x1="47.85" y1="991.53" x2="49.45" y2="991.53" stroke="#555" stroke-width="0.8"/>
<line x1="47.85" y1="939.23" x2="49.45" y2="939.23" stroke="#555" stroke-width="0.8"/>
<line x1="47.85" y1="886.94" x2="49.45" y2="886.94" stroke="#555" stroke-width="0.8"/>
<line x1="47.85" y1="834.65" x2="49.45" y2="834.65" stroke="#555" stroke-width="0.8"/>
<text class="tk" transform="translate(60.18,1159.80) rotate(-45) scale(1.2543,1)" x="-14.85 -7.02" y="0">−7</text>
<text class="tk" transform="translate(112.71,1159.80) rotate(-45) scale(1.2543,1)" x="-14.85 -7.02" y="0">−6</text>
<text class="tk" transform="translate(165.25,1159.80) rotate(-45) scale(1.2543,1)" x="-14.85 -7.02" y="0">−5</text>
<text class="tk" transform="translate(217.78,1159.80) rotate(-45) scale(1.2543,1)" x="-14.85 -7.02" y="0">−4</text>
<text class="tk" transform="translate(270.31,1159.80) rotate(-45) scale(1.2543,1)" x="-14.85 -7.02" y="0">−3</text>
<text class="tk" transform="translate(322.85,1159.80) rotate(-45) scale(1.2543,1)" x="-14.85 -7.02" y="0">−2</text>
<text class="tk" transform="translate(375.38,1159.80) rotate(-45) scale(1.2543,1)" x="-14.85 -7.02" y="0">−1</text>
<text class="tk" transform="translate(44.25,1150.50) rotate(-45) scale(1.2543,1)" x="-14.85 -7.02" y="0">−7</text>
<text class="tk" transform="translate(44.25,1098.21) rotate(-45) scale(1.2543,1)" x="-14.85 -7.02" y="0">−6</text>
<text class="tk" transform="translate(44.25,1045.92) rotate(-45) scale(1.2543,1)" x="-14.85 -7.02" y="0">−5</text>
<text class="tk" transform="translate(44.25,993.63) rotate(-45) scale(1.2543,1)" x="-14.85 -7.02" y="0">−4</text>
<text class="tk" transform="translate(44.25,941.33) rotate(-45) scale(1.2543,1)" x="-14.85 -7.02" y="0">−3</text>
<text class="tk" transform="translate(44.25,889.04) rotate(-45) scale(1.2543,1)" x="-14.85 -7.02" y="0">−2</text>
<text class="tk" transform="translate(44.25,836.75) rotate(-45) scale(1.2543,1)" x="-14.85 -7.02" y="0">−1</text>
<text class="lab" transform="translate(83.60,1194.10) scale(1.1609,1)" x="-0.80 11.18 20.35 29.50 34.30 39.86 48.38 57.22 65.82 71.10 74.77 83.74 92.88 97.31 106.31 115.30 124.52 130.23 139.27 147.64 152.29 157.90 166.03 173.94 183.09 187.06 191.95 205.64 214.79 218.69" y="0">G16 reaction energy (kcal/mol)</text>
<text class="lab" transform="translate(12.90,1135.58) rotate(-90) scale(1.1434,1)" x="-0.52 11.77 21.96 32.33 41.46 50.81 64.81 69.69 75.37 84.02 92.98 101.69 107.05 110.81 119.92 129.16 133.70 142.83 151.96 161.30 167.11 176.29 184.76 189.48 195.20 203.45 211.49 220.74 224.78 229.82 243.68 252.92 256.90" y="0">MRChem reaction energy (kcal/mol)</text>
</g>
<g id="p6">
<clipPath id="c5"><rect x="465.5" y="818.4" width="328.00" height="326.00"/></clipPath>
<g clip-path="url(#c5)">
<circle cx="601" cy="968" r="3.4" fill="#2c80ee"/>
<circle cx="601" cy="948" r="3.4" fill="#ff640a"/>
<circle cx="601" cy="930.9" r="3.4" fill="#2fde0e"/>
<circle cx="601" cy="916" r="3.4" fill="#ea0a0c"/>
<circle cx="669.75" cy="925" r="3.4" fill="#2c80ee"/>
<circle cx="669.75" cy="908.1" r="3.4" fill="#ff640a"/>
<circle cx="669.75" cy="893.9" r="3.4" fill="#2fde0e"/>
<circle cx="669.75" cy="882" r="3.4" fill="#ea0a0c"/>
<circle cx="680.85" cy="918.9" r="3.4" fill="#2c80ee"/>
<circle cx="680.85" cy="905.5" r="3.4" fill="#ff640a"/>
<circle cx="680.85" cy="893.9" r="3.4" fill="#2fde0e"/>
<circle cx="680.85" cy="883.9" r="3.4" fill="#ea0a0c"/>
<circle cx="720.75" cy="877.5" r="3.4" fill="#2c80ee"/>
<circle cx="720.75" cy="866.9" r="3.4" fill="#ff640a"/>
<circle cx="720.75" cy="857.75" r="3.4" fill="#2fde0e"/>
<circle cx="720.75" cy="850" r="3.4" fill="#ea0a0c"/>
<line x1="495.20" y1="1144.4" x2="495.20" y2="818.4" stroke="#d2d7d7" stroke-width="0.8" stroke-dasharray="3.85 1.65"/>
<line x1="550.86" y1="1144.4" x2="550.86" y2="818.4" stroke="#d2d7d7" stroke-width="0.8" stroke-dasharray="3.85 1.65"/>
<line x1="606.52" y1="1144.4" x2="606.52" y2="818.4" stroke="#d2d7d7" stroke-width="0.8" stroke-dasharray="3.85 1.65"/>
<line x1="662.18" y1="1144.4" x2="662.18" y2="818.4" stroke="#d2d7d7" stroke-width="0.8" stroke-dasharray="3.85 1.65"/>
<line x1="717.84" y1="1144.4" x2="717.84" y2="818.4" stroke="#d2d7d7" stroke-width="0.8" stroke-dasharray="3.85 1.65"/>
<line x1="773.50" y1="1144.4" x2="773.50" y2="818.4" stroke="#d2d7d7" stroke-width="0.8" stroke-dasharray="3.85 1.65"/>
<line x1="465.5" y1="1115.30" x2="793.5" y2="1115.30" stroke="#d2d7d7" stroke-width="0.8" stroke-dasharray="3.85 1.65"/>
<line x1="465.5" y1="1059.94" x2="793.5" y2="1059.94" stroke="#d2d7d7" stroke-width="0.8" stroke-dasharray="3.85 1.65"/>
<line x1="465.5" y1="1004.58" x2="793.5" y2="1004.58" stroke="#d2d7d7" stroke-width="0.8" stroke-dasharray="3.85 1.65"/>
<line x1="465.5" y1="949.22" x2="793.5" y2="949.22" stroke="#d2d7d7" stroke-width="0.8" stroke-dasharray="3.85 1.65"/>
<line x1="465.5" y1="893.86" x2="793.5" y2="893.86" stroke="#d2d7d7" stroke-width="0.8" stroke-dasharray="3.85 1.65"/>
<line x1="465.5" y1="838.50" x2="793.5" y2="838.50" stroke="#d2d7d7" stroke-width="0.8" stroke-dasharray="3.85 1.65"/>
<line x1="465.5" y1="1144.4" x2="793.5" y2="818.4" stroke="#e43c30" stroke-width="1.1"/>
</g>
<rect x="472.1" y="825.3" width="69.6" height="105.7" rx="2.5" fill="#fff" fill-opacity="0.8" stroke="#e2e2e2" stroke-width="0.8"/>
<text class="beta" x="502.32" y="842.77">β</text>
<circle cx="491.00" cy="860.70" r="3.4" fill="#2c80ee"/>
<text class="lg" transform="translate(515.40,864.17) scale(1.0715,1)" x="-0.00 7.90 11.84" y="0">0.0</text>
<circle cx="491.00" cy="880.40" r="3.4" fill="#ff640a"/>
<text class="lg" transform="translate(515.40,883.88) scale(1.0715,1)" x="-0.00 7.90 11.84" y="0">0.5</text>
<circle cx="491.00" cy="900.10" r="3.4" fill="#2fde0e"/>
<text class="lg" transform="translate(515.40,903.57) scale(1.0715,1)" x="-0.00 7.90 11.84" y="0">1.0</text>
<circle cx="491.00" cy="919.80" r="3.4" fill="#ea0a0c"/>
<text class="lg" transform="translate(515.40,923.27) scale(1.0715,1)" x="-0.00 7.90 11.84" y="0">1.5</text>
<rect x="465.5" y="818.4" width="328.00" height="326.00" fill="none" stroke="#808080" stroke-width="1"/>
<line x1="495.20" y1="1144.4" x2="495.20" y2="1146.0" stroke="#555" stroke-width="0.8"/>
<line x1="550.86" y1="1144.4" x2="550.86" y2="1146.0" stroke="#555" stroke-width="0.8"/>
<line x1="606.52" y1="1144.4" x2="606.52" y2="1146.0" stroke="#555" stroke-width="0.8"/>
<line x1="662.18" y1="1144.4" x2="662.18" y2="1146.0" stroke="#555" stroke-width="0.8"/>
<line x1="717.84" y1="1144.4" x2="717.84" y2="1146.0" stroke="#555" stroke-width="0.8"/>
<line x1="773.50" y1="1144.4" x2="773.50" y2="1146.0" stroke="#555" stroke-width="0.8"/>
<line x1="463.9" y1="1115.30" x2="465.5" y2="1115.30" stroke="#555" stroke-width="0.8"/>
<line x1="463.9" y1="1059.94" x2="465.5" y2="1059.94" stroke="#555" stroke-width="0.8"/>
<line x1="463.9" y1="1004.58" x2="465.5" y2="1004.58" stroke="#555" stroke-width="0.8"/>
<line x1="463.9" y1="949.22" x2="465.5" y2="949.22" stroke="#555" stroke-width="0.8"/>
<line x1="463.9" y1="893.86" x2="465.5" y2="893.86" stroke="#555" stroke-width="0.8"/>
<line x1="463.9" y1="838.50" x2="465.5" y2="838.50" stroke="#555" stroke-width="0.8"/>
<text class="tk" transform="translate(508.05,1155.00) rotate(-45) scale(1.2070,1)" x="-22.13 -14.01 -7.15" y="0">−12</text>
<text class="tk" transform="translate(563.71,1155.00) rotate(-45) scale(1.2070,1)" x="-22.13 -14.01 -7.15" y="0">−10</text>
<text class="tk" transform="translate(616.40,1155.00) rotate(-45) scale(1.2543,1)" x="-14.85 -7.02" y="0">−8</text>
<text class="tk" transform="translate(672.06,1155.00) rotate(-45) scale(1.2543,1)" x="-14.85 -7.02" y="0">−6</text>
<text class="tk" transform="translate(727.72,1155.00) rotate(-45) scale(1.2543,1)" x="-14.85 -7.02" y="0">−4</text>
<text class="tk" transform="translate(783.38,1155.00) rotate(-45) scale(1.2543,1)" x="-14.85 -7.02" y="0">−2</text>
<text class="tk" transform="translate(460.30,1117.40) rotate(-45) scale(1.2070,1)" x="-22.13 -14.01 -7.15" y="0">−12</text>
<text class="tk" transform="translate(460.30,1062.04) rotate(-45) scale(1.2070,1)" x="-22.13 -14.01 -7.15" y="0">−10</text>
<text class="tk" transform="translate(460.30,1006.68) rotate(-45) scale(1.2543,1)" x="-14.85 -7.02" y="0">−8</text>
<text class="tk" transform="translate(460.30,951.32) rotate(-45) scale(1.2543,1)" x="-14.85 -7.02" y="0">−6</text>
<text class="tk" transform="translate(460.30,895.96) rotate(-45) scale(1.2543,1)" x="-14.85 -7.02" y="0">−4</text>
<text class="tk" transform="translate(460.30,840.60) rotate(-45) scale(1.2543,1)" x="-14.85 -7.02" y="0">−2</text>
<text class="lab" transform="translate(499.95,1195.40) scale(1.1609,1)" x="-0.80 11.18 20.35 29.50 34.30 39.86 48.38 57.22 65.82 71.10 74.77 83.74 92.88 97.31 106.31 115.30 124.52 130.23 139.27 147.64 152.29 157.90 166.03 173.94 183.09 187.06 191.95 205.64 214.79 218.69" y="0">G16 reaction energy (kcal/mol)</text>
<text class="lab" transform="translate(423.35,1130.67) rotate(-90) scale(1.1434,1)" x="-0.52 11.77 21.96 32.33 41.46 50.81 64.81 69.69 75.37 84.02 92.98 101.69 107.05 110.81 119.92 129.16 133.70 142.83 151.96 161.30 167.11 176.29 184.76 189.48 195.20 203.45 211.49 220.74 224.78 229.82 243.68 252.92 256.90" y="0">MRChem reaction energy (kcal/mol)</text>
</g>
</svg></body></html>
